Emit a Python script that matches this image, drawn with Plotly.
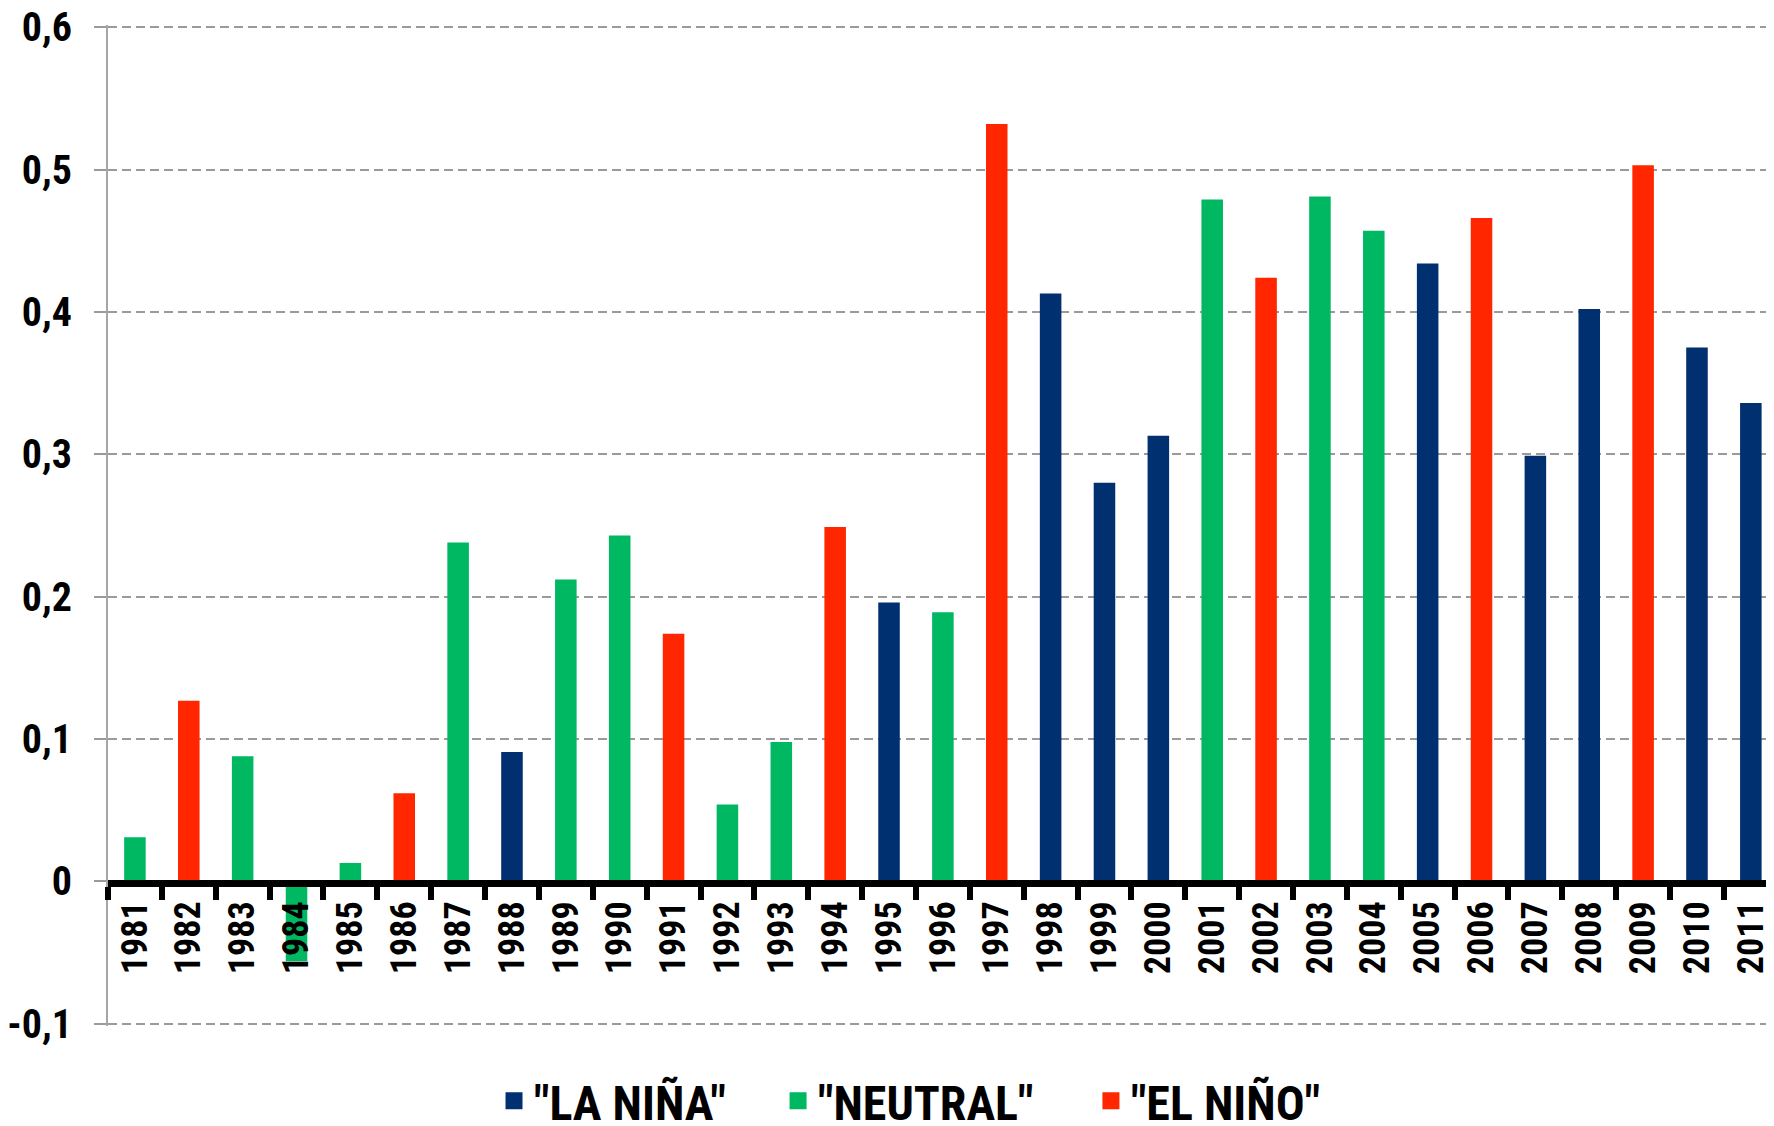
import plotly.graph_objects as go

years = [str(y) for y in range(1981, 2012)]
values = [0.031, 0.127, 0.088, -0.056, 0.013, 0.062, 0.238, 0.091, 0.212, 0.243,
          0.174, 0.054, 0.098, 0.249, 0.196, 0.189, 0.532, 0.413, 0.280, 0.313,
          0.479, 0.424, 0.481, 0.457, 0.434, 0.466, 0.299, 0.402, 0.503, 0.375,
          0.336]
phase = ["N", "E", "N", "N", "N", "E", "N", "L", "N", "N",
         "E", "N", "N", "E", "L", "N", "E", "L", "L", "L",
         "N", "E", "N", "N", "L", "E", "L", "L", "E", "L",
         "L"]

series_keys = ["L", "N", "E"]
series_names = {"L": '"LA NIÑA"', "N": '"NEUTRAL"', "E": '"EL NIÑO"'}
series_colors = {"L": "#003070", "N": "#00B862", "E": "#FF2600"}

y_tickvals = [-0.1, 0.0, 0.1, 0.2, 0.3, 0.4, 0.5, 0.6]
y_ticktext = ["-0,1", "0", "0,1", "0,2", "0,3", "0,4", "0,5", "0,6"]

FONT = "Roboto Condensed, Archivo Narrow, PT Sans Narrow, sans-serif"
legend_ids = {"L": "legend", "N": "legend2", "E": "legend3"}
legend_x = {"L": 0.2317, "N": 0.4022, "E": 0.5900}

fig = go.Figure()
for key in series_keys:
    ys = [v if p == key else None for v, p in zip(values, phase)]
    fig.add_trace(go.Bar(
        x=years, y=ys, name=series_names[key], legendgroup=key, showlegend=False,
        marker=dict(color=series_colors[key], line=dict(width=0)),
        width=0.4,
    ))
# legend entries (no data of their own), drawn with a thicker outline so the key squares are larger
for key in series_keys:
    fig.add_trace(go.Bar(
        x=[years[0]], y=[None], name=series_names[key], legendgroup=key, showlegend=True,
        legend=legend_ids[key],
        marker=dict(color=series_colors[key], line=dict(width=5, color=series_colors[key])),
        hoverinfo="skip",
    ))

legend_common = dict(
    orientation="h", xanchor="left", y=-0.075, yanchor="middle",
    font=dict(family=FONT, size=48, color="black", weight="bold"),
    itemwidth=30, bgcolor="rgba(0,0,0,0)",
)

# the page body adds an 8px offset; the figure is sized to fill the 1774x1126 window
fig.update_layout(
    width=1766, height=1118,
    margin=dict(l=100, r=0, t=17, b=100, autoexpand=False),
    plot_bgcolor="white", paper_bgcolor="white",
    barmode="overlay",
    font=dict(family=FONT, size=38, color="black", weight="bold"),
    legend=dict(x=legend_x["L"], **legend_common),
    legend2=dict(x=legend_x["N"], **legend_common),
    legend3=dict(x=legend_x["E"], **legend_common),
    xaxis=dict(
        type="category", range=[-0.5, 30.43],
        anchor="free", position=1/7,
        showgrid=False, showline=True, linecolor="black", linewidth=7,
        ticks="outside", tickson="boundaries", ticklen=13, tickwidth=6, tickcolor="black",
        tickangle=-90, tickfont=dict(family=FONT, size=36, color="black", weight="bold"),
        automargin=False, layer="above traces", ticklabeloverflow="allow",
    ),
    yaxis=dict(
        range=[-0.1015, 0.6015], tickvals=y_tickvals, ticktext=y_ticktext,
        showgrid=True, gridcolor="#9a9a9a", gridwidth=1.5, griddash="9px,5px",
        showline=True, linecolor="#a6a6a6", linewidth=2,
        ticks="outside", ticklen=12, tickwidth=1.5, tickcolor="#9a9a9a",
        zeroline=False, ticklabelstandoff=14, ticklabeloverflow="allow",
        tickfont=dict(family=FONT, size=40, color="black", weight="bold"),
        automargin=False,
    ),
)

fig.write_html("out.html")
